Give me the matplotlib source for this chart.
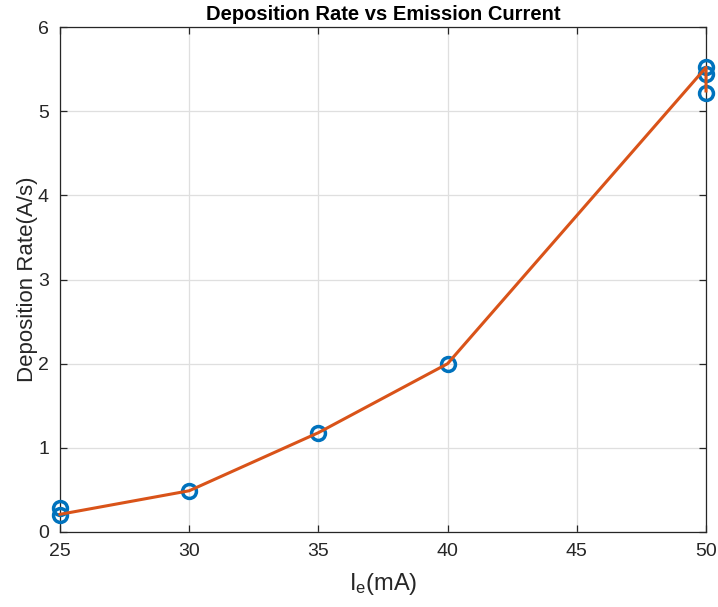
import matplotlib
matplotlib.use("Agg")
import matplotlib.pyplot as plt

plt.rcParams['font.family'] = ['Liberation Sans', 'DejaVu Sans']
plt.rcParams['mathtext.fontset'] = 'custom'
plt.rcParams['mathtext.rm'] = 'Liberation Sans'
plt.rcParams['mathtext.it'] = 'Liberation Sans'

# measured data (markers)
x_pts = [25, 25, 30, 35, 40, 50, 50, 50]
y_pts = [0.20, 0.29, 0.49, 1.18, 2.00, 5.22, 5.44, 5.53]
# connecting line
x_line = [25, 30, 35, 40, 50, 50]
y_line = [0.21, 0.49, 1.18, 2.00, 5.52, 5.24]

xticks = [25, 30, 35, 40, 45, 50]
yticks = [0, 1, 2, 3, 4, 5, 6]

fig = plt.figure(figsize=(7.18, 6.07), dpi=100)
ax = fig.add_axes([60/718, 75/607, 646/718, 505/607])

ax.plot(x_pts, y_pts, linestyle='none', marker='o', markersize=10,
        markerfacecolor='none', markeredgecolor='#0072BD', markeredgewidth=2.5,
        clip_on=False, zorder=3)
ax.plot(x_line, y_line, color='#D95319', linewidth=2.2, clip_on=False, zorder=4)

ax.set_xlim(25, 50)
ax.set_ylim(0, 6)
ax.set_xticks(xticks)
ax.set_yticks(yticks)
ax.grid(True, color='#DFDFDF', linewidth=0.9)
ax.set_axisbelow(True)
ax.tick_params(direction='in', top=True, right=True, labelsize=14, colors='#262626',
               length=5, width=0.9, pad=8)
for s in ax.spines.values():
    s.set_color('#262626')
    s.set_linewidth(0.9)

ax.set_title('Deposition Rate vs Emission Current', fontsize=14.5, fontweight='bold', pad=5)
ax.set_xlabel(r'I$_{\mathrm{e}}$(mA)', fontsize=17, color='#262626', labelpad=8)
ax.set_ylabel('Deposition Rate(A/s)', fontsize=16, color='#262626', labelpad=0)

fig.savefig('out.png', dpi=100)
